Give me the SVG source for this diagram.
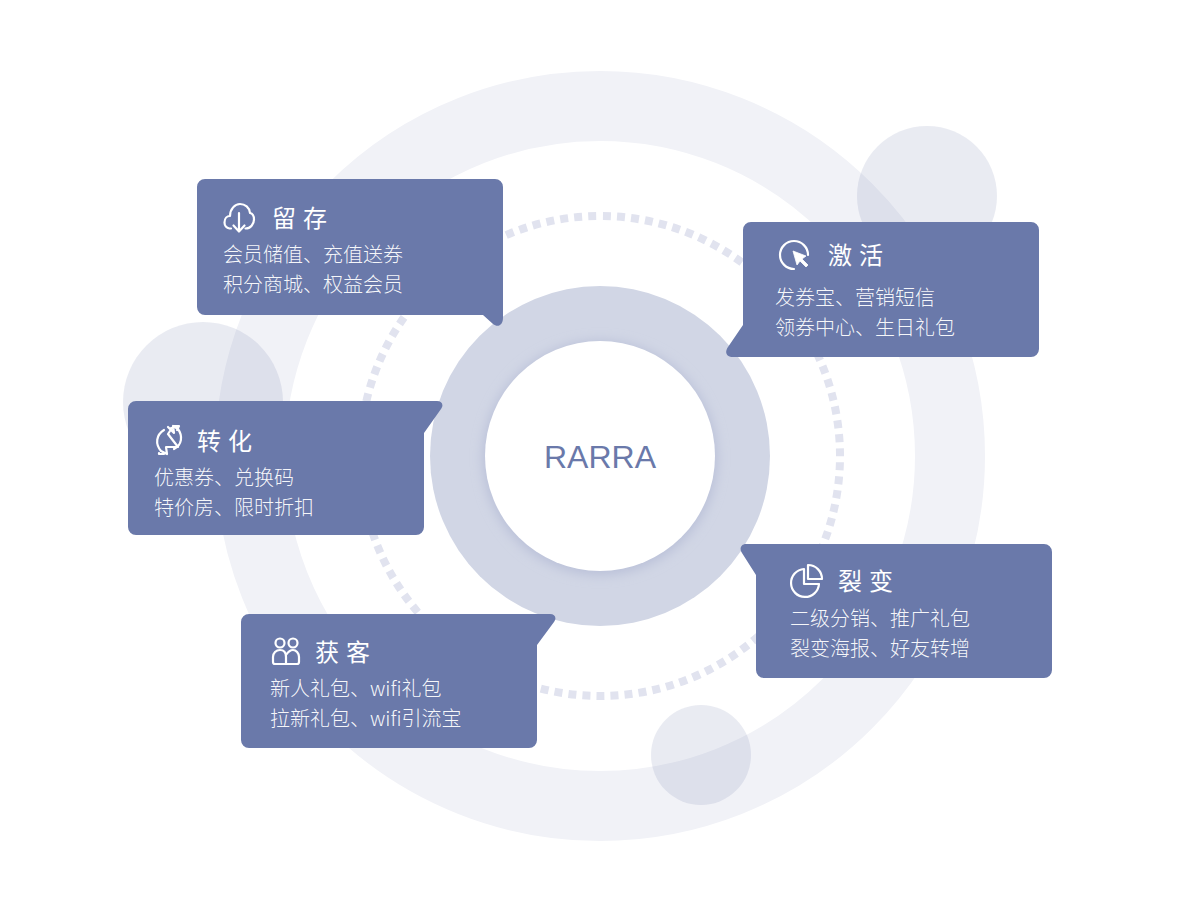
<svg xmlns="http://www.w3.org/2000/svg" width="1200" height="900" viewBox="0 0 1200 900">
<style>
.box{fill:#6a79aa}
.title{font:400 24px "Noto Sans CJK SC","Noto Sans",sans-serif;fill:#fff;letter-spacing:7px}
.body{font:300 20px "Noto Sans CJK SC","Noto Sans",sans-serif;fill:#fff;fill-opacity:.95}
.ic{fill:none;stroke:#fff;stroke-width:2.2;stroke-linecap:round;stroke-linejoin:round}
.blob{fill:#6a79aa;fill-opacity:.15}
</style>
<defs>
<filter id="soft" x="-20%" y="-20%" width="140%" height="140%"><feGaussianBlur stdDeviation="6"/></filter>
</defs>
<rect width="1200" height="900" fill="#fff"/>
<g id="background">
<circle cx="600" cy="456" r="350" fill="none" stroke="#f1f2f7" stroke-width="70"/>
<circle class="blob" cx="927" cy="196" r="70"/>
<circle class="blob" cx="203" cy="402" r="80"/>
<circle class="blob" cx="701" cy="755" r="50"/>
<circle cx="600" cy="456" r="240" fill="none" stroke="#e1e3ef" stroke-width="8" stroke-dasharray="8 6.08" stroke-dashoffset="-3" transform="rotate(-90 600 456)"/>
</g>
<g id="center">
<circle cx="600" cy="456" r="170" fill="#d1d6e5"/>
<circle cx="600" cy="458" r="117" fill="#b9c0d8" filter="url(#soft)"/>
<circle cx="600" cy="456" r="115" fill="#fff"/>
<text x="600" y="467.5" text-anchor="middle" font-family="'Liberation Sans',Arial,sans-serif" font-size="32" letter-spacing="0" fill="#6a79aa">RARRA</text>
</g>
<g id="connectors"></g>
<g id="node-liucun">
<path class="box" d="M205 179H495a8 8 0 0 1 8 8V318c0 7-5 10-10 6L483 315H205a8 8 0 0 1-8-8V187a8 8 0 0 1 8-8z"/>
<path class="ic" d="M231 228.500h-1.500a6 6 0 0 1-5-6c0-4 2.500-6.500 5.500-6.500 0-7 5-12 10-12s9.500 3.500 10 9c2.500.5 4 3.500 4 6.500 0 4.500-3.500 9-8.500 9M239 213v18M233.500 225.500l5.500 6 5.500-6"/>
<text class="title" x="272" y="227">留存</text>
<text class="body" x="223" y="262">会员储值、充值送券</text>
<text class="body" x="223" y="292">积分商城、权益会员</text>
</g>
<g id="node-jihuo">
<path class="box" d="M751 222H1031a8 8 0 0 1 8 8V349a8 8 0 0 1-8 8H733c-6 0-9-4-5-10L743 325V230a8 8 0 0 1 8-8z"/>
<path class="ic" d="M808 255a14 14 0 1 0-14 14"/>
<path d="M793 251l13 5-4 3 6 6-2 2-6-6-3 4z" fill="#fff" stroke="#fff" stroke-width=".8" stroke-linejoin="round"/>
<text class="title" x="828" y="264">激活</text>
<text class="body" x="775" y="305">发券宝、营销短信</text>
<text class="body" x="775" y="335">领券中心、生日礼包</text>
</g>
<g id="node-zhuanhua">
<path class="box" d="M136 401H437c5 0 7 4 4 8L424 433V527a8 8 0 0 1-8 8H136a8 8 0 0 1-8-8V409a8 8 0 0 1 8-8z"/>
<path class="ic" d="M164 430c-8 5-9 14-3 21l6 3-1-7h12l-10-13 4-6M174 449c8-4 9-13 4-20l-5-3 1 7-6-6M164 454l-5 0v-1M174 426h5l-2 4M171 428l7-1"/>
<text class="title" x="197" y="450">转化</text>
<text class="body" x="154" y="485">优惠券、兑换码</text>
<text class="body" x="154" y="515">特价房、限时折扣</text>
</g>
<g id="node-liebian">
<path class="box" d="M746 544H1044a8 8 0 0 1 8 8V670a8 8 0 0 1-8 8H764a8 8 0 0 1-8-8V575L742 553c-3-4-1-9 4-9z"/>
<path class="ic" d="M804 569a14 14 0 1 0 15 15h-15zM808 565a14 14 0 0 1 14 14h-14z"/>
<text class="title" x="838" y="590">裂变</text>
<text class="body" x="790" y="626">二级分销、推广礼包</text>
<text class="body" x="790" y="656">裂变海报、好友转增</text>
</g>
<g id="node-huoke">
<path class="box" d="M249 614H550c5 0 7 4 4 8L537 645V740a8 8 0 0 1-8 8H249a8 8 0 0 1-8-8V622a8 8 0 0 1 8-8z"/>
<circle class="ic" cx="280" cy="643" r="4.500"/>
<circle class="ic" cx="293" cy="643" r="4.500"/>
<path class="ic" d="M286 664h-11a2 2 0 0 1-2-2v-5c0-4 3-7 7-7s6 3 6 7v7zM286 664h11a2 2 0 0 0 2-2v-5c0-4-3-7-6-7-3 0-5 2-7 5"/>
<text class="title" x="315" y="661">获客</text>
<text class="body" x="270" y="696">新人礼包、wifi礼包</text>
<text class="body" x="270" y="726">拉新礼包、wifi引流宝</text>
</g>
</svg>
